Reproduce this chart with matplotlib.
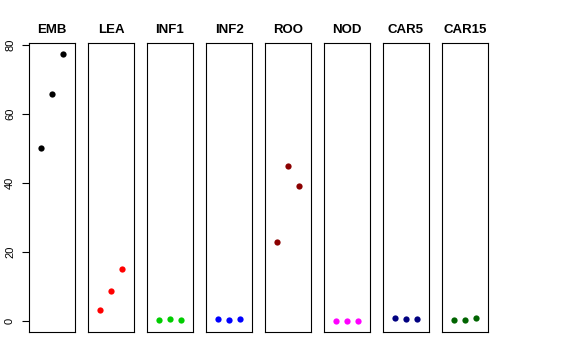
import matplotlib
matplotlib.use("Agg")
import matplotlib.pyplot as plt

plt.rcParams['font.family'] = ['Liberation Sans', 'DejaVu Sans']

# panel names and colours
groups = ["EMB", "LEA", "INF1", "INF2", "ROO", "NOD", "CAR5", "CAR15"]
colors = ["black", "red", "#00CD00", "blue", "#8B0000", "magenta", "#000080", "#006400"]

# three values per panel
emb = [50.1, 65.8, 77.4]
lea = [3.4, 8.9, 15.1]
inf1 = [0.4, 0.6, 0.4]
inf2 = [0.8, 0.5, 0.6]
roo = [22.9, 44.9, 39.3]
nod = [0.2, 0.2, 0.2]
car5 = [0.9, 0.6, 0.6]
car15 = [0.5, 0.5, 1.0]
values = [emb, lea, inf1, inf2, roo, nod, car5, car15]
xpos = [1, 2, 3]

fig = plt.figure(figsize=(5.76, 3.6), dpi=100)
W, H = 576.0, 360.0
left0, step, width = 29, 59, 46
top, bottom = 43, 332

for i, (name, col, vals) in enumerate(zip(groups, colors, values)):
    l = left0 + i * step
    ax = fig.add_axes([l / W, 1 - bottom / H, width / W, (bottom - top) / H])
    ax.plot(xpos, vals, "o", color=col, markersize=4.5, markeredgewidth=0)
    ax.set_xlim(-0.16, 4.16)
    ax.set_ylim(-3.1, 80.6)
    ax.set_xticks([])
    for s in ax.spines.values():
        s.set_linewidth(0.8)
    ax.set_title(name, fontsize=9.5, fontweight="bold", pad=7)
    if i == 0:
        ax.set_yticks([0, 20, 40, 60, 80])
        ax.tick_params(axis="y", labelsize=8, length=5, width=0.8, pad=5, labelrotation=90)
        for t in ax.get_yticklabels():
            t.set_va("center")
    else:
        ax.set_yticks([])

fig.savefig("out.png", dpi=100)
